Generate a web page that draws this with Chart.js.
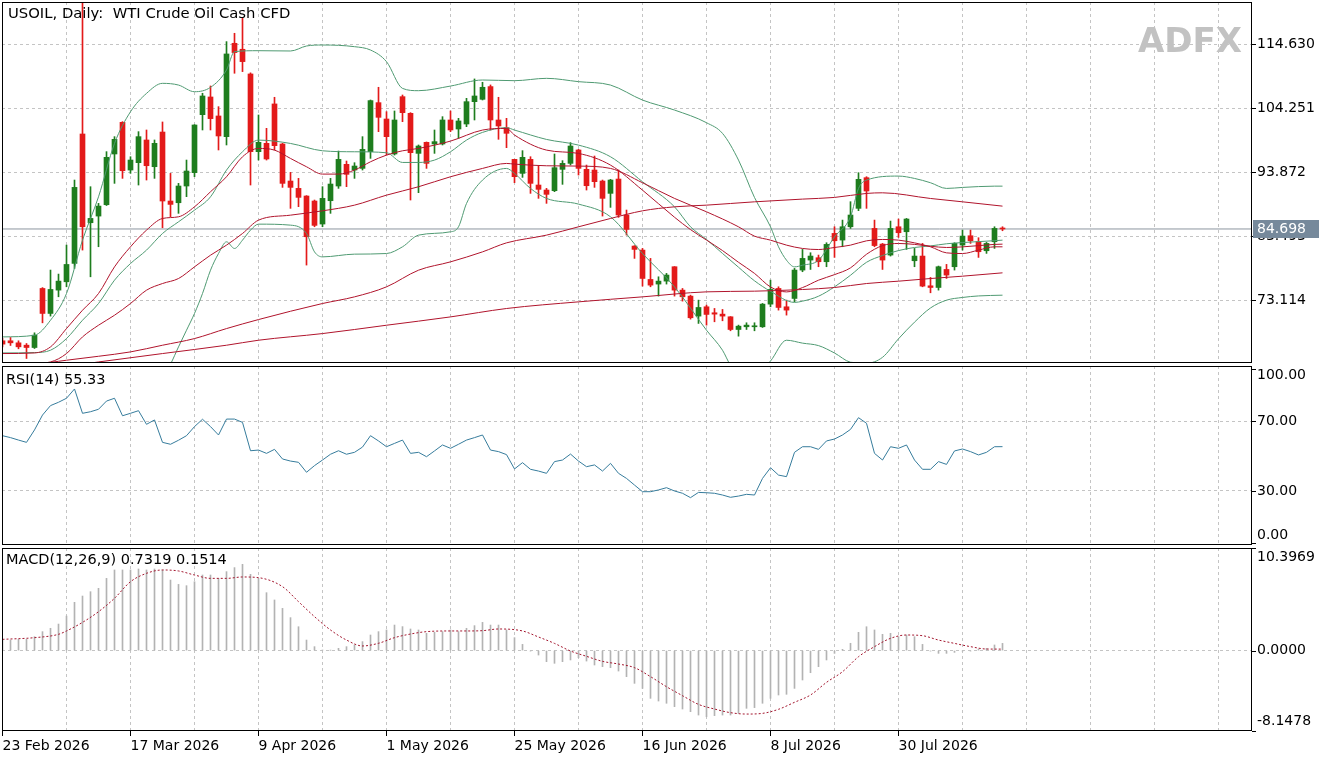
<!DOCTYPE html>
<html>
<head>
<meta charset="utf-8">
<title>USOIL Daily</title>
<script src="https://cdn.jsdelivr.net/npm/chart.js@4.4.1/dist/chart.umd.min.js"></script>
<style>
  html, body { margin: 0; padding: 0; background: #fff; }
  #wrap { position: relative; width: 1330px; height: 760px; overflow: hidden; background: #fff; }
  canvas { position: absolute; left: 0; }
</style>
</head>
<body>
<div id="wrap">
  <canvas id="priceChart" width="1330" height="365" style="top:0"></canvas>
  <canvas id="rsiChart" width="1330" height="182" style="top:365px"></canvas>
  <canvas id="macdChart" width="1330" height="213" style="top:547px"></canvas>
</div>
<script>
// ---- data ----
const dateTicks = [0, 16, 32, 48, 64, 80, 96, 112];
const dateLabels = ['23 Feb 2026', '17 Mar 2026', '9 Apr 2026', '1 May 2026',
                    '25 May 2026', '16 Jun 2026', '8 Jul 2026', '30 Jul 2026'];

const opens = [66.58, 66.58, 66.25, 65.87, 65.49, 75.06, 71.01, 74.79, 76.14, 79.12,
  100.09, 85.71, 86.79, 88.63, 96.85, 101.98, 94.25, 95.44, 99.12, 94.79,
  100.41, 89.23, 88.95, 91.66, 93.82, 103.22, 106.09, 103.01, 99.66, 114.79,
  113.82, 109.82, 97.23, 98.58, 104.96, 98.47, 92.47, 91.28, 90.04, 89.23,
  85.50, 89.28, 91.66, 95.17, 94.25, 94.52, 97.23, 105.17, 102.52, 96.85,
  106.14, 103.44, 96.95, 98.74, 98.47, 98.47, 102.36, 100.90, 101.71, 105.33,
  105.71, 107.77, 102.36, 101.12, 95.98, 93.71, 95.98, 91.82, 91.01, 90.90,
  94.36, 95.33, 97.50, 94.36, 94.25, 92.47, 90.47, 92.79, 86.96, 81.93,
  81.28, 76.52, 75.77, 76.25, 78.58, 74.79, 73.82, 70.58, 72.09, 71.12,
  70.90, 70.47, 68.41, 68.85, 68.85, 68.85, 72.52, 75.06, 72.09, 73.44,
  78.04, 79.66, 80.04, 79.39, 83.98, 82.90, 85.06, 88.04, 93.01, 84.79,
  82.25, 80.47, 85.06, 84.25, 79.55, 80.31, 75.49, 75.22, 78.14, 78.58,
  82.09, 83.60, 82.63, 81.17, 82.63, 84.74];
const highs = [66.96, 67.12, 66.58, 66.14, 67.87, 75.20, 78.04, 77.39, 82.09, 92.63,
  121.5, 91.55, 88.85, 97.23, 99.66, 102.09, 96.41, 100.47, 100.74, 99.12,
  102.04, 93.71, 92.09, 95.87, 101.60, 106.69, 107.87, 104.52, 115.06, 116.41,
  118.90, 110.00, 103.17, 101.01, 106.04, 98.60, 93.87, 92.90, 90.10, 89.39,
  91.55, 92.90, 97.33, 95.71, 95.44, 99.66, 105.60, 107.66, 103.71, 103.82,
  106.41, 103.55, 98.31, 98.80, 100.74, 102.90, 103.82, 102.63, 105.87, 109.01,
  108.47, 108.04, 106.04, 102.63, 96.00, 97.39, 96.41, 94.90, 91.28, 96.85,
  95.77, 98.69, 97.60, 95.06, 96.52, 92.63, 92.74, 94.25, 87.77, 82.00,
  81.55, 79.93, 76.95, 77.50, 78.60, 75.06, 73.98, 73.17, 72.36, 71.82,
  71.66, 70.50, 69.12, 69.50, 69.50, 72.63, 76.41, 75.33, 73.17, 78.31,
  81.39, 80.85, 80.47, 82.47, 85.06, 86.14, 89.12, 93.82, 93.17, 86.14,
  82.36, 85.98, 86.31, 86.41, 81.55, 82.36, 76.85, 78.69, 78.96, 82.47,
  84.52, 84.52, 83.28, 82.52, 85.06, 85.06];
const lows = [65.60, 65.82, 65.28, 63.71, 65.33, 69.49, 70.58, 73.71, 75.33, 78.31,
  81.28, 76.95, 81.82, 88.50, 92.09, 92.90, 93.71, 91.82, 92.63, 92.90,
  84.90, 86.69, 87.23, 89.93, 93.17, 100.74, 100.74, 97.50, 98.31, 109.93,
  110.20, 91.82, 95.87, 95.87, 97.50, 91.44, 88.04, 88.31, 78.85, 85.06,
  85.06, 87.23, 91.28, 91.55, 92.90, 94.25, 96.14, 100.47, 96.68, 96.68,
  102.09, 89.39, 90.58, 94.52, 96.95, 98.31, 100.47, 99.39, 101.28, 102.36,
  105.60, 100.74, 99.23, 97.87, 92.20, 93.06, 90.47, 89.66, 88.85, 90.74,
  91.93, 95.06, 93.44, 91.01, 91.44, 86.79, 88.20, 86.58, 83.71, 79.93,
  75.44, 75.33, 73.82, 75.77, 73.82, 73.01, 70.09, 69.39, 69.12, 69.66,
  69.82, 68.20, 67.33, 68.41, 68.20, 68.74, 72.09, 71.55, 70.74, 72.90,
  77.77, 78.14, 78.58, 78.58, 80.09, 81.82, 84.79, 87.66, 88.04, 81.82,
  78.14, 80.31, 83.33, 81.39, 78.58, 75.33, 74.36, 74.79, 76.68, 78.04,
  81.28, 82.36, 80.09, 80.74, 81.55, 84.41];
const closes = [66.04, 66.25, 65.60, 65.49, 67.49, 71.01, 74.90, 76.25, 78.95, 91.44,
  85.06, 86.41, 88.41, 96.31, 99.23, 94.14, 95.87, 99.66, 94.95, 98.58,
  89.23, 88.68, 91.66, 94.09, 101.55, 106.25, 102.58, 99.77, 113.06, 113.28,
  111.82, 97.23, 98.74, 96.04, 98.20, 92.09, 91.44, 89.82, 83.44, 85.28,
  89.66, 91.98, 95.98, 93.55, 94.90, 97.60, 105.50, 102.79, 99.66, 102.36,
  103.55, 97.06, 98.14, 95.33, 98.85, 102.36, 100.74, 102.20, 105.33, 106.25,
  107.66, 102.36, 101.39, 100.20, 93.17, 96.31, 92.09, 91.12, 90.31, 94.63,
  95.33, 98.14, 94.52, 91.71, 92.36, 89.66, 92.63, 86.96, 84.63, 81.39,
  76.68, 75.60, 76.25, 77.23, 74.79, 73.71, 70.31, 71.98, 70.85, 70.90,
  70.58, 68.41, 68.95, 69.12, 69.01, 72.52, 74.90, 71.98, 71.55, 78.04,
  79.93, 80.31, 79.39, 82.20, 82.79, 85.06, 86.96, 92.74, 90.85, 82.01,
  79.66, 84.79, 84.09, 86.31, 80.31, 75.44, 75.22, 78.58, 77.23, 82.36,
  83.55, 82.79, 81.01, 82.36, 84.79, 84.698];
const lastPrice = 84.698;

// Bollinger bands and moving averages, [bar, value] points
const bbUpper = [[0, 67.21], [4, 67.48], [6, 69.91], [8, 74.24], [10, 82.89], [12, 89.91], [14, 98.56],
  [16, 103.70], [18, 106.67], [20, 108.30], [22, 108.02], [24, 106.94], [26, 107.65], [28, 110.46],
  [29, 113.43], [32, 113.59], [36, 113.54], [38, 114.35], [40, 114.51], [44, 114.24], [46, 113.70],
  [48, 111.81], [50, 107.48], [52, 107.11], [56, 107.86], [60, 108.84], [64, 108.73], [68, 109.11],
  [72, 108.57], [76, 108.02], [80, 105.59], [84, 103.97], [88, 101.92], [90, 100.19], [92, 95.86],
  [94, 89.80], [96, 85.05], [97, 81.81], [98, 79.64], [99, 78.56], [100, 78.83], [102, 79.64],
  [104, 83.43], [106, 86.67], [107, 91.27], [108, 92.62], [112, 93.27], [114, 92.89], [116, 92.19],
  [118, 91.27], [120, 91.43], [124, 91.64], [125, 91.64]];
const bbMiddle = [[0, 64.61], [4, 64.67], [6, 65.05], [8, 66.94], [10, 69.91], [12, 72.62], [14, 76.40],
  [16, 79.10], [18, 81.27], [20, 83.97], [22, 85.86], [24, 87.75], [26, 89.91], [28, 94.24], [30, 97.21],
  [32, 99.10], [36, 98.56], [40, 97.37], [44, 97.21], [48, 97.05], [50, 95.48], [52, 95.48], [54, 95.86],
  [56, 97.21], [58, 99.10], [60, 100.35], [63, 101.11], [64, 100.73], [68, 99.21], [72, 98.29],
  [76, 96.40], [80, 92.35], [84, 88.29], [86, 85.05], [88, 83.00], [90, 80.73], [92, 78.50], [94, 76.30],
  [96, 74.60], [99, 72.80], [100, 73.00], [102, 73.80], [104, 75.32], [106, 77.20], [108, 79.30],
  [110, 80.40], [112, 81.20], [114, 81.70], [116, 81.95], [118, 82.30], [120, 82.50], [124, 82.80],
  [125, 82.89]];
const bbLower = [[20, 60.5], [21, 62.78], [22, 65.59], [23, 68.29], [24, 71.01], [25, 74.24], [26, 78.02],
  [27, 80.72], [28, 82.62], [29, 81.54], [30, 82.89], [31, 84.51], [32, 85.48], [36, 85.32], [38, 83.97],
  [39, 80.99], [40, 80.18], [44, 80.62], [48, 80.72], [50, 81.81], [52, 83.70], [56, 84.24], [57, 85.05],
  [58, 88.83], [60, 92.62], [63, 94.51], [64, 93.70], [66, 91.27], [68, 89.65], [72, 88.73], [76, 86.67],
  [80, 80.72], [84, 75.32], [88, 68.29], [90, 65.05], [91, 62.61], [93, 60.0], [95, 62.0], [96, 63.3],
  [98, 66.67], [100, 66.20], [102, 65.80], [104, 64.60], [106, 63.10], [108, 62.90], [110, 63.90],
  [112, 66.90], [114, 69.60], [116, 71.90], [118, 73.16], [120, 73.60], [122, 73.85], [125, 73.97]];
const maFast = [[0, 64.51], [4, 64.61], [6, 65.59], [8, 68.56], [10, 71.53], [12, 74.24], [14, 78.56],
  [16, 81.81], [18, 84.51], [20, 86.40], [22, 86.67], [24, 88.29], [26, 90.73], [28, 93.16], [30, 96.40],
  [32, 97.75], [34, 97.48], [36, 96.13], [38, 94.78], [40, 93.59], [42, 93.59], [44, 94.24], [46, 95.59],
  [48, 96.67], [50, 97.37], [52, 97.75], [56, 98.94], [60, 100.73], [63, 100.99], [64, 99.92],
  [68, 97.48], [72, 96.94], [76, 95.05], [80, 90.99], [84, 86.60], [86, 84.60], [88, 82.90], [90, 81.20],
  [92, 79.30], [94, 77.50], [96, 75.30], [98, 74.50], [100, 75.20], [102, 76.40], [104, 77.30],
  [106, 78.40], [108, 80.60], [110, 82.00], [112, 82.35], [114, 82.20], [116, 81.90], [118, 81.70],
  [120, 81.80], [122, 82.00], [124, 82.20], [125, 82.24]];
const maMid = [[3, 62.5], [4, 62.88], [6, 63.15], [8, 64.51], [10, 67.21], [12, 69.10], [14, 70.72],
  [16, 72.62], [18, 74.78], [20, 75.86], [22, 76.67], [24, 78.56], [26, 80.45], [28, 82.08], [30, 83.97],
  [32, 86.13], [36, 86.94], [40, 87.64], [44, 88.56], [48, 90.18], [52, 91.54], [56, 93.16], [60, 94.51],
  [63, 95.32], [64, 95.21], [68, 94.94], [72, 94.89], [76, 94.51], [80, 92.19], [84, 89.65], [88, 87.48],
  [92, 85.05], [94, 83.54], [96, 82.89], [98, 82.08], [100, 81.54], [102, 81.37], [104, 81.70],
  [106, 82.08], [108, 82.78], [110, 83.00], [112, 82.89], [114, 82.45], [116, 81.81], [118, 80.83],
  [120, 80.72], [122, 81.27], [124, 81.81], [125, 81.81]];
const maSlow = [[0, 62.62], [4, 62.78], [8, 63.43], [12, 64.07], [16, 64.78], [20, 65.86], [24, 66.94],
  [28, 68.56], [32, 70.02], [40, 72.62], [44, 73.70], [48, 75.32], [52, 78.02], [56, 79.37], [60, 80.99],
  [63, 82.45], [68, 83.70], [72, 85.05], [76, 86.40], [80, 87.64], [84, 88.29], [88, 88.56], [94, 89.10],
  [100, 89.54], [104, 89.81], [108, 90.46], [110, 90.56], [116, 89.64], [120, 89.10], [125, 88.40]];
const maLong = [[8, 62.3], [10, 62.78], [12, 63.15], [20, 64.51], [28, 65.86], [32, 66.67], [40, 67.75],
  [48, 69.10], [56, 70.45], [63, 71.81], [72, 72.89], [80, 73.70], [88, 74.51], [94, 74.62], [100, 74.89],
  [104, 75.21], [108, 75.86], [112, 76.24], [116, 76.67], [120, 77.05], [125, 77.59]];

const rsiValues = [61.6, 60.5, 59.1, 57.8, 64.9, 73.4, 78.8, 80.7, 83.0, 88.3,
  74.4, 75.3, 76.7, 81.4, 83.0, 73.0, 74.4, 75.9, 68.1, 70.6,
  57.8, 56.7, 59.0, 61.6, 66.8, 71.0, 66.8, 62.0, 71.1, 71.1,
  69.2, 53.0, 53.4, 51.5, 53.8, 48.3, 47.1, 46.4, 40.7, 44.5,
  47.7, 51.0, 53.0, 51.0, 52.1, 55.1, 61.6, 58.6, 55.3, 57.2,
  59.1, 51.5, 52.1, 49.6, 52.9, 56.3, 54.4, 56.7, 59.1, 60.5,
  62.0, 53.4, 52.5, 50.8, 42.6, 46.2, 42.4, 41.4, 40.1, 46.8,
  47.7, 51.1, 47.1, 43.9, 44.9, 41.4, 45.8, 40.1, 37.2, 33.4,
  29.6, 29.6, 30.6, 31.9, 30.0, 28.7, 26.2, 29.2, 29.0, 28.7,
  27.7, 26.4, 27.1, 28.1, 27.7, 37.2, 43.3, 39.1, 38.2, 52.1,
  55.3, 55.3, 53.8, 58.6, 59.7, 62.0, 65.2, 71.9, 68.7, 51.5,
  47.7, 55.3, 54.4, 56.3, 47.7, 42.4, 42.4, 46.8, 45.2, 52.9,
  54.0, 52.5, 50.6, 52.1, 55.3, 55.33];

const macdValues = [1.07, 1.07, 1.14, 1.14, 1.41, 1.92, 2.26, 2.69, 3.50, 4.89,
  5.53, 5.97, 6.31, 7.32, 8.17, 8.17, 8.17, 8.27, 8.17, 8.27,
  8.17, 7.15, 6.71, 6.58, 6.98, 7.66, 7.66, 7.32, 8.00, 8.41,
  8.74, 7.73, 7.32, 5.87, 5.13, 4.28, 3.34, 2.42, 1.07, 0.40,
  0.06, 0.03, 0.23, 0.40, 0.57, 0.91, 1.58, 1.92, 2.09, 2.59,
  2.43, 2.19, 2.09, 1.75, 1.85, 1.92, 2.09, 1.92, 2.26, 2.53,
  2.86, 2.59, 2.59, 2.09, 1.31, 0.63, -0.05, -0.45, -1.12, -1.29,
  -1.12, -0.95, -0.72, -1.06, -1.46, -1.63, -1.73, -2.07, -2.64, -3.32,
  -3.83, -4.84, -5.11, -5.34, -5.68, -5.92, -6.19, -6.53, -6.70, -6.59,
  -6.53, -6.53, -6.36, -5.85, -5.78, -5.34, -4.84, -4.50, -4.43, -3.83,
  -2.98, -2.24, -1.63, -0.95, -0.28, 0.13, 0.74, 1.85, 2.42, 2.09,
  1.65, 1.75, 1.41, 1.58, 1.41, 0.63, -0.04, -0.28, -0.28, -0.18,
  -0.04, -0.04, 0.16, 0.23, 0.57, 0.7319];
const macdSignal = [[0, 1.14], [4, 1.31], [7, 1.65], [8, 1.99], [10, 2.86], [12, 3.94], [14, 5.30],
  [16, 6.98], [18, 7.83], [20, 8.17], [22, 8.07], [24, 7.66], [26, 7.32], [28, 7.32], [30, 7.46],
  [32, 7.39], [35, 6.48], [37, 4.96], [39, 3.44], [41, 2.09], [43, 1.07], [45, 0.47], [47, 0.74],
  [49, 1.31], [51, 1.68], [53, 1.92], [56, 1.99], [58, 1.99], [60, 2.02], [62, 2.19], [65, 1.99],
  [67, 1.38], [69, 0.73], [71, -0.04], [73, -0.58], [75, -1.09], [77, -1.36], [79, -1.73], [81, -2.64],
  [83, -3.66], [85, -4.57], [87, -5.45], [89, -5.92], [91, -6.29], [93, -6.43], [95, -6.36], [97, -5.95],
  [99, -5.24], [101, -4.50], [103, -3.22], [105, -2.14], [107, -0.62], [109, 0.40], [111, 1.24],
  [113, 1.58], [115, 1.51], [117, 1.07], [119, 0.73], [121, 0.40], [123, 0.16], [125, 0.1514]];

const priceTicks = [73.114, 83.493, 93.872, 104.251, 114.630];
const rsiTicks = [0, 30, 70, 100];
const rsiGrid = [30, 70];
const macdTicks = [-8.1478, 0, 10.3969];

// ---- look ----
const UP = '#1e7d1e', DOWN = '#e31a1a';
const BAND = '#4f9a72', MA = '#b0142c';
const GRID = '#c4c4c4';
const X_MIN = -0.0625, X_MAX = X_MIN + 1250 / 8;
const FONT = '"DejaVu Sans", Verdana, sans-serif';

Chart.defaults.font.family = FONT;
Chart.defaults.font.size = 14;
Chart.defaults.color = '#000';
Chart.defaults.animation = false;

const gridIdx = [];
for (let i = 0; i <= 152; i += 8) gridIdx.push(i);

function labelAt(v) {
  const k = dateTicks.indexOf(v);
  return k >= 0 ? dateLabels[k] : '';
}

const gridColor = ctx => (ctx.tick && ctx.tick.value === 0) ? 'rgba(0,0,0,0)' : GRID;

function xAxis(withLabels) {
  return {
    type: 'linear', min: X_MIN, max: X_MAX, offset: false,
    afterBuildTicks: s => { s.ticks = gridIdx.map(v => ({ value: v })); },
    afterFit: s => { s.height = withLabels ? 29 : 0; },
    ticks: {
      display: withLabels, autoSkip: false, maxRotation: 0, align: 'start', padding: 2,
      callback: v => labelAt(v)
    },
    grid: {
      offset: false, color: gridColor, drawTicks: withLabels, tickLength: 5, tickWidth: 1,
      tickColor: ctx => (ctx.tick && labelAt(ctx.tick.value)) ? '#000' : 'rgba(0,0,0,0)'
    },
    border: { display: false, dash: [3, 3] }
  };
}

function yAxis(min, max, gridValues) {
  return {
    position: 'right', min: min, max: max,
    afterFit: s => { s.width = 78; },
    afterBuildTicks: s => { s.ticks = gridValues.map(v => ({ value: v })); },
    ticks: { display: false },
    grid: { color: GRID, drawTicks: false },
    border: { display: false, dash: [3, 3] }
  };
}

function lineSet(points, color, extra) {
  return Object.assign({
    type: 'line', data: points, borderColor: color, borderWidth: 1,
    pointRadius: 0, cubicInterpolationMode: 'monotone', order: 1
  }, extra || {});
}

// frame, right-hand labels, pane title, price tag
const paneDecor = {
  id: 'paneDecor',
  beforeDatasetsDraw(chart, args, opts) {
    if (!opts.watermark) return;
    const ctx = chart.ctx;
    ctx.save();
    ctx.font = 'bold 34px ' + FONT;
    ctx.fillStyle = '#c2c2c2';
    ctx.textAlign = 'right';
    ctx.textBaseline = 'middle';
    ctx.fillText(opts.watermark, 1242, 43);
    ctx.restore();
  },
  afterDraw(chart, args, opts) {
    const { ctx, chartArea: a } = chart;
    const ys = chart.scales.y;
    ctx.save();
    ctx.strokeStyle = '#000';
    ctx.lineWidth = 1;
    ctx.strokeRect(Math.floor(a.left) + 0.5, Math.floor(a.top) + 0.5,
      Math.round(a.right - a.left) - 1, Math.round(a.bottom - a.top) - 1);

    ctx.font = '14px ' + FONT;
    ctx.fillStyle = '#000';
    ctx.textBaseline = 'middle';
    ctx.textAlign = 'left';
    (opts.labels || []).forEach(([v, text]) => {
      const py = ys.getPixelForValue(v);
      if (py >= a.top && py <= a.bottom) {
        ctx.beginPath();
        ctx.moveTo(a.right, Math.round(py) + 0.5);
        ctx.lineTo(a.right + 4, Math.round(py) + 0.5);
        ctx.stroke();
      }
      const ty = Math.min(Math.max(py, a.top + 9.5), a.bottom - 9.5);
      ctx.fillText(text, a.right + 5, ty);
    });

    if (opts.priceTag !== undefined) {
      const py = Math.round(ys.getPixelForValue(opts.priceTag));
      ctx.fillStyle = '#76899b';
      ctx.fillRect(a.right + 1, py - 9, 66, 18);
      ctx.fillStyle = '#fff';
      ctx.fillText(opts.priceTag.toFixed(3), a.right + 5, py);
    }

    if (opts.title) {
      ctx.font = (opts.titleSize || 14.5) + 'px ' + FONT;
      ctx.fillStyle = '#000';
      ctx.fillText(opts.title, a.left + opts.titleX, a.top + opts.titleY);
    }
    ctx.restore();
  }
};

const candleColor = ctx => {
  const i = ctx.dataIndex;
  if (i === undefined) return UP;
  return closes[i] >= opens[i] ? UP : DOWN;
};

const commonOpts = {
  responsive: false,
  events: [],
  plugins: { legend: { display: false }, tooltip: { enabled: false } }
};

// ---- price pane ----
new Chart(document.getElementById('priceChart'), {
  type: 'bar',
  data: {
    datasets: [
      lineSet([[X_MIN, lastPrice], [X_MAX, lastPrice]], '#8d969f', { order: 5, cubicInterpolationMode: 'default' }),
      {
        type: 'bar', data: opens.map((o, i) => ({ x: i, y: [lows[i], highs[i]] })),
        backgroundColor: candleColor, barThickness: 1, grouped: false, order: 4
      },
      {
        type: 'bar', data: opens.map((o, i) => ({ x: i, y: [o, closes[i]] })),
        backgroundColor: candleColor, barThickness: 5, minBarLength: 1, grouped: false, order: 3
      },
      lineSet(maLong, MA), lineSet(maSlow, MA), lineSet(maMid, MA), lineSet(maFast, MA),
      lineSet(bbLower, BAND), lineSet(bbMiddle, BAND), lineSet(bbUpper, BAND)
    ]
  },
  options: Object.assign({}, commonOpts, {
    layout: { padding: { top: 2, left: 2, bottom: 2, right: 0 } },
    scales: { x: xAxis(false), y: yAxis(62.98, 121.48, priceTicks) },
    plugins: Object.assign({}, commonOpts.plugins, {
      paneDecor: {
        labels: priceTicks.map(v => [v, v.toFixed(3)]),
        title: 'USOIL, Daily:  WTI Crude Oil Cash CFD', titleX: 6, titleY: 12, titleSize: 14.8,
        priceTag: lastPrice, watermark: 'ADFX'
      }
    })
  }),
  plugins: [paneDecor]
});

// ---- RSI pane ----
new Chart(document.getElementById('rsiChart'), {
  type: 'line',
  data: {
    datasets: [
      lineSet(rsiValues.map((v, i) => [i, v]), '#367c9c', { cubicInterpolationMode: 'default', tension: 0 })
    ]
  },
  options: Object.assign({}, commonOpts, {
    layout: { padding: { top: 1, left: 2, bottom: 2, right: 0 } },
    scales: { x: xAxis(false), y: yAxis(-0.86, 101.43, rsiGrid) },
    plugins: Object.assign({}, commonOpts.plugins, {
      paneDecor: {
        labels: rsiTicks.map(v => [v, v.toFixed(2)]),
        title: 'RSI(14) ' + rsiValues[rsiValues.length - 1].toFixed(2), titleX: 4, titleY: 14
      }
    })
  }),
  plugins: [paneDecor]
});

// ---- MACD pane ----
new Chart(document.getElementById('macdChart'), {
  type: 'bar',
  data: {
    datasets: [
      {
        type: 'bar', data: macdValues.map((v, i) => ({ x: i, y: v })),
        backgroundColor: '#b3b3b3', barThickness: 1, grouped: false, order: 2
      },
      lineSet(macdSignal, '#a3162e', { borderDash: [2, 2] })
    ]
  },
  options: Object.assign({}, commonOpts, {
    layout: { padding: { top: 1, left: 2, bottom: 0, right: 0 } },
    scales: { x: xAxis(true), y: yAxis(-8.1478, 10.3969, [0]) },
    plugins: Object.assign({}, commonOpts.plugins, {
      paneDecor: {
        labels: macdTicks.map(v => [v, v.toFixed(4)]),
        title: 'MACD(12,26,9) ' + macdValues[macdValues.length - 1].toFixed(4) + ' ' +
               macdSignal[macdSignal.length - 1][1].toFixed(4),
        titleX: 4, titleY: 12.5
      }
    })
  }),
  plugins: [paneDecor]
});
</script>
</body>
</html>
